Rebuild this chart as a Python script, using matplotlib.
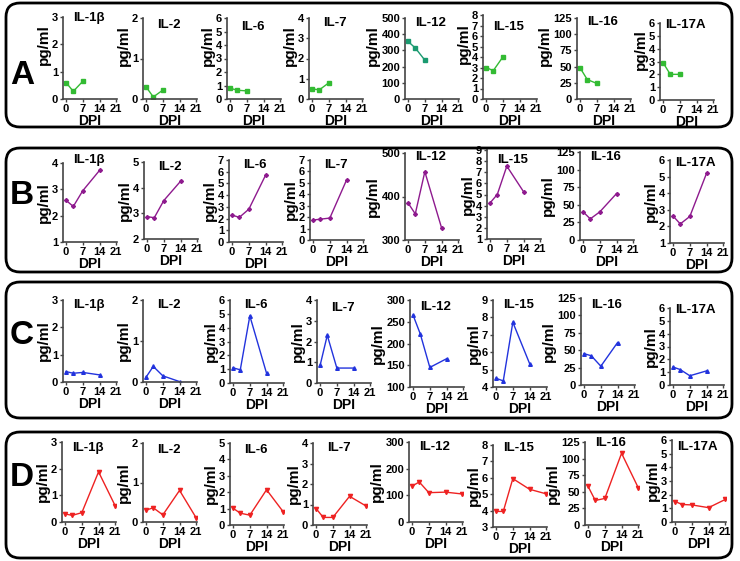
import matplotlib
matplotlib.use("Agg")
import matplotlib.pyplot as plt
from matplotlib.patches import FancyBboxPatch
from matplotlib.transforms import Affine2D
import numpy as np

plt.rcParams['font.family'] = ['Liberation Sans', 'DejaVu Sans']
plt.rcParams['font.weight'] = 'bold'

cytokines = ["IL-1β", "IL-2", "IL-6", "IL-7", "IL-12", "IL-15", "IL-16", "IL-17A"]
x_ticks = [0, 7, 14, 21]

# Row A (green, squares)
days_a = [0, 3, 7]
vals_a = [
    [0.60, 0.28, 0.65],
    [0.30, 0.05, 0.22],
    [0.80, 0.65, 0.60],
    [0.50, 0.45, 0.80],
    [355, 315, 240],
    [3.0, 2.7, 4.0],
    [48, 30, 24],
    [2.9, 2.0, 2.0],
]
ylims_a = [(0, 3, 1), (0, 2, 1), (0, 6, 1), (0, 4, 1), (0, 500, 100), (0, 8, 1), (0, 125, 25), (0, 6, 1)]

# Row B (purple)
days_b = [0, 3, 7, 14]
vals_b = [
    [2.58, 2.35, 2.95, 3.72],
    [2.87, 2.83, 3.50, 4.25],
    [2.30, 2.10, 2.80, 5.70],
    [1.75, 1.82, 1.92, 5.25],
    [385, 360, 457, 328],
    [4.25, 5.00, 7.55, 5.25],
    [40, 30, 40, 66],
    [2.62, 2.15, 2.60, 5.20],
]
ylims_b = [(1, 4, 1), (2, 5, 1), (0, 7, 1), (0, 7, 1), (300, 500, 100), (1, 9, 1), (0, 125, 25), (1, 6, 1)]

# Row C (blue)
days_c = [0, 3, 7, 14]
vals_c = [
    [0.38, 0.32, 0.35, 0.26],
    [0.12, 0.38, 0.15, 0.01],
    [1.10, 0.95, 4.85, 0.70],
    [0.85, 2.30, 0.72, 0.72],
    [265, 222, 145, 165],
    [4.50, 4.35, 7.72, 5.35],
    [45, 42, 27, 61],
    [1.40, 1.20, 0.72, 1.10],
]
ylims_c = [(0, 3, 1), (0, 2, 1), (0, 6, 1), (0, 4, 1), (100, 300, 50), (4, 9, 1), (0, 125, 25), (0, 6, 1)]

# Row D (red)
days_d = [0, 3, 7, 14, 21]
vals_d = [
    [0.30, 0.25, 0.35, 1.88, 0.60],
    [0.30, 0.36, 0.18, 0.80, 0.10],
    [1.02, 0.72, 0.60, 2.15, 0.80],
    [0.80, 0.37, 0.37, 1.40, 0.92],
    [135, 150, 110, 112, 105],
    [3.95, 3.95, 5.95, 5.30, 5.02],
    [58, 37, 40, 108, 56],
    [1.50, 1.28, 1.25, 1.05, 1.65],
]
ylims_d = [(0, 3, 1), (0, 2, 1), (0, 5, 1), (0, 4, 1), (0, 300, 100), (3, 8, 1), (0, 125, 25), (0, 6, 1)]

W, H = 740, 561
fig = plt.figure(figsize=(W / 100, H / 100), dpi=100)
pix = Affine2D().scale(1 / W, 1 / H) + fig.transFigure

rows = [
    dict(letter="A", days=days_a, vals=vals_a, ylims=ylims_a, color="#33bb33", marker="s", ms=3.5,
         box=(3, 127), letter_y=75, ylab_y=0.66,
         lefts=[63, 143, 227, 309, 405, 483, 577, 660],
         tops=[17, 18, 18, 18, 18, 15, 18, 23],
         bots=[99, 99, 99, 99, 99, 99, 99, 100],
         title_y=[18, 25, 27, 23, 23, 27, 22, 25]),
    dict(letter="B", days=days_b, vals=vals_b, ylims=ylims_b, color="#8e1a8e", marker="D", ms=2.0,
         box=(148, 272), letter_y=195, ylab_y=0.5,
         lefts=[63, 144, 229, 310, 405, 487, 580, 670],
         tops=[163, 162, 160, 160, 153, 150, 152, 160],
         bots=[242, 239, 242, 240, 240, 239, 240, 243],
         title_y=[160, 167, 165, 165, 157, 160, 157, 163]),
    dict(letter="C", days=days_c, vals=vals_c, ylims=ylims_c, color="#2233dd", marker="^", ms=2.6,
         box=(282, 418), letter_y=335, ylab_y=0.5,
         lefts=[63, 143, 230, 317, 410, 493, 581, 670],
         tops=[300, 300, 300, 300, 300, 300, 298, 308],
         bots=[382, 382, 383, 383, 387, 387, 385, 385],
         title_y=[305, 305, 305, 308, 307, 305, 305, 310]),
    dict(letter="D", days=days_d, vals=vals_d, ylims=ylims_d, color="#ee2222", marker="v", ms=3.0,
         box=(432, 558), letter_y=478, ylab_y=0.5,
         lefts=[62, 143, 230, 313, 409, 493, 585, 672],
         tops=[442, 443, 443, 443, 442, 445, 442, 440],
         bots=[522, 522, 525, 525, 522, 527, 525, 522],
         title_y=[448, 450, 450, 448, 447, 448, 443, 447]),
]

AW = 54
for r in rows:
    y0, y1 = r["box"]
    box = FancyBboxPatch((6, H - y1), 726, y1 - y0,
                         boxstyle="round,pad=0,rounding_size=14",
                         transform=pix, fill=False, lw=2.0, ec="black")
    fig.add_artist(box)
    fig.text(22 / W, 1 - r["letter_y"] / H, r["letter"], fontsize=24, fontweight="bold",
             ha="center", va="center")
    for i, name in enumerate(cytokines):
        left, top, bot = r["lefts"][i], r["tops"][i], r["bots"][i]
        ax = fig.add_axes([left / W, 1 - bot / H, AW / W, (bot - top) / H])
        color = r["color"]
        if r["letter"] == "A" and name == "IL-12":
            color = "#1a9a70"
        ax.plot(r["days"], r["vals"][i], color=color, lw=1.0, marker=r["marker"],
                ms=r["ms"], mec=color, mfc=color)
        lo, hi, step = r["ylims"][i]
        ax.set_ylim(lo, hi)
        ax.set_yticks(np.arange(lo, hi + step / 2, step))
        ax.set_xlim(-1.3, 21.3)
        ax.set_xticks(x_ticks)
        for s in ["top", "right"]:
            ax.spines[s].set_visible(False)
        for s in ["left", "bottom"]:
            ax.spines[s].set_color("#444444")
            ax.spines[s].set_linewidth(1.2)
        ax.tick_params(axis="both", direction="out", length=2.5, width=1.0, color="#444444",
                       labelsize=8, pad=1)
        for lab in ax.get_xticklabels() + ax.get_yticklabels():
            lab.set_fontweight("bold")
        ax.set_xlabel("DPI", fontsize=10, fontweight="bold", labelpad=0)
        ax.set_ylabel("pg/ml", fontsize=11, fontweight="bold", labelpad=1)
        ax.yaxis.label.set_y(r["ylab_y"])
        ax.patch.set_alpha(0)
        ty = 1 - r["title_y"][i] / H
        fig.text((left + 0.48 * AW) / W, ty, name, ha="center", va="center",
                 fontsize=9.5, fontweight="bold")

fig.savefig("out.png", dpi=100)
